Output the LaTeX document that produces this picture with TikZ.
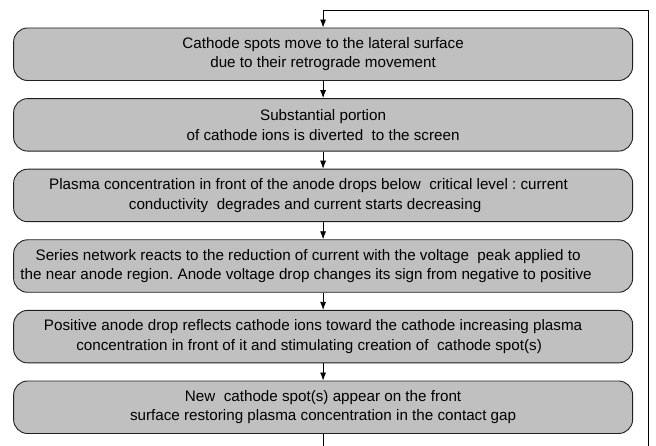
\documentclass[tikz,border=0pt]{standalone}
\usepackage{fontspec}
\setmainfont{Liberation Sans}
\usetikzlibrary{arrows.meta}
\definecolor{boxfill}{HTML}{C0C0C0}
\definecolor{boxline}{HTML}{202020}
\newcommand{\myshiftleft}[1]{\hspace*{#1}}
\frenchspacing
\tikzset{
  stepbox/.style={draw=boxline, line width=0.9pt, fill=boxfill, rounded corners=14pt,
    minimum width=619pt, minimum height=52.5pt, inner sep=0pt, align=center,
    font=\fontsize{15.2}{19.5}\selectfont},
  flow/.style={draw=black, line width=0.8pt, -{Latex[length=8pt,width=6pt]}},
  plain/.style={draw=black, line width=0.8pt}
}
\begin{document}
\begin{tikzpicture}[x=1pt,y=-1pt]
\useasboundingbox (0,0) rectangle (656,446);
\node[stepbox] (b1) at (323.1,54.25) {Cathode spots move to the lateral surface\\due to their retrograde movement};
\node[stepbox] (b2) at (323.1,124.85) {Substantial portion\\of cathode ions is diverted\ \ to the screen};
\node[stepbox] (b3) at (323.1,195.45) {Plasma concentration in front of the anode drops below\ \ critical level : current\myshiftleft{29pt}\\conductivity\ \ degrades and current starts decreasing\myshiftleft{36pt}};
\node[stepbox] (b4) at (323.1,266.05) {Series network reacts to the reduction of current with the voltage\ \ peak applied to\myshiftleft{30pt}\\the near anode region. Anode voltage drop changes its sign from negative to positive\myshiftleft{34pt}};
\node[stepbox] (b5) at (323.1,336.65) {Positive anode drop reflects cathode ions toward the cathode increasing plasma\myshiftleft{20pt}\\concentration in front of it and stimulating creation of\ \ cathode spot(s)\myshiftleft{28pt}};
\node[stepbox] (b6) at (323.1,407.25) {New\ \ cathode spot(s) appear on the front\\surface restoring plasma concentration in the contact gap};
\coordinate (lb) at (323.1,446);
\coordinate (lr) at (648.7,446);
\coordinate (ltr) at (648.7,10);
\coordinate (ltl) at (323.1,10);
\draw[flow] (b1) -- (b2);
\draw[flow] (b2) -- (b3);
\draw[flow] (b3) -- (b4);
\draw[flow] (b4) -- (b5);
\draw[flow] (b5) -- (b6);
\draw[plain] (b6.south) -- (lb);
\draw[flow] (lr) -- (ltr) -- (ltl) -- (b1.north);
\end{tikzpicture}
\end{document}
